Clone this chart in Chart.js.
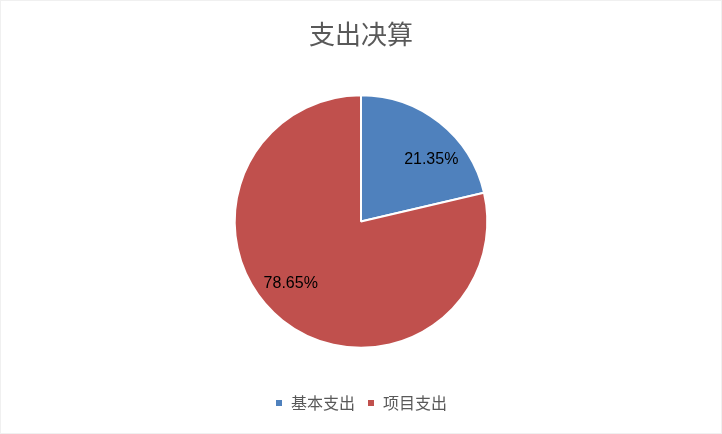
<!DOCTYPE html>
<html lang="zh">
<head>
    <meta charset="UTF-8">
    <title>支出决算</title>
    <script src="https://cdn.jsdelivr.net/npm/chart.js"></script>
    <style>
        html, body { margin: 0; padding: 0; background: #fff; }
        #wrap { width: 720px; height: 432px; border: 1px solid #f0f0f0; }
    </style>
</head>
<body>
    <div id="wrap"><canvas id="myChart" width="720" height="432"></canvas></div>

    <script>
        // Chart data
        const categories = ['基本支出', '项目支出'];
        const shares = [21.35, 78.65];
        const sliceColors = ['#4F81BD', '#C0504D'];

        // Draw percentage labels inside each slice
        const sliceLabels = {
            id: 'sliceLabels',
            afterDatasetsDraw(chart) {
                const ctx = chart.ctx;
                const meta = chart.getDatasetMeta(0);
                ctx.save();
                ctx.font = '16px "Liberation Sans", Arial, sans-serif';
                ctx.fillStyle = '#000';
                ctx.textAlign = 'center';
                ctx.textBaseline = 'middle';
                meta.data.forEach((arc, i) => {
                    const mid = (arc.startAngle + arc.endAngle) / 2 + 0.18;
                    const r = arc.outerRadius * 0.74;
                    const x = arc.x + Math.cos(mid) * r;
                    const y = arc.y + Math.sin(mid) * r;
                    ctx.fillText(shares[i].toFixed(2) + '%', x, y);
                });
                ctx.restore();
            }
        };

        const config = {
            type: 'pie',
            data: {
                labels: categories,
                datasets: [{
                    data: shares,
                    backgroundColor: sliceColors,
                    borderColor: '#fff',
                    borderWidth: 2
                }]
            },
            options: {
                responsive: false,
                animation: false,
                layout: { padding: { top: 0, bottom: 12 } },
                plugins: {
                    title: {
                        display: true,
                        text: '支出决算',
                        color: '#595959',
                        font: { family: '"Noto Sans CJK SC", sans-serif', size: 26, weight: 'normal' },
                        padding: { top: 18, bottom: 44 }
                    },
                    legend: {
                        position: 'bottom',
                        // empty title only used as a spacer above the legend row
                        title: {
                            display: true,
                            text: ' ',
                            font: { size: 1 },
                            padding: { top: 0, bottom: 33 }
                        },
                        labels: {
                            color: '#595959',
                            font: { family: '"Noto Sans CJK SC", sans-serif', size: 16 },
                            usePointStyle: true,
                            pointStyle: 'rect',
                            boxWidth: 8,
                            boxHeight: 8,
                            padding: 12
                        }
                    },
                    tooltip: { enabled: false }
                }
            },
            plugins: [sliceLabels]
        };

        var myChart = new Chart(document.getElementById('myChart'), config);
    </script>
</body>
</html>
